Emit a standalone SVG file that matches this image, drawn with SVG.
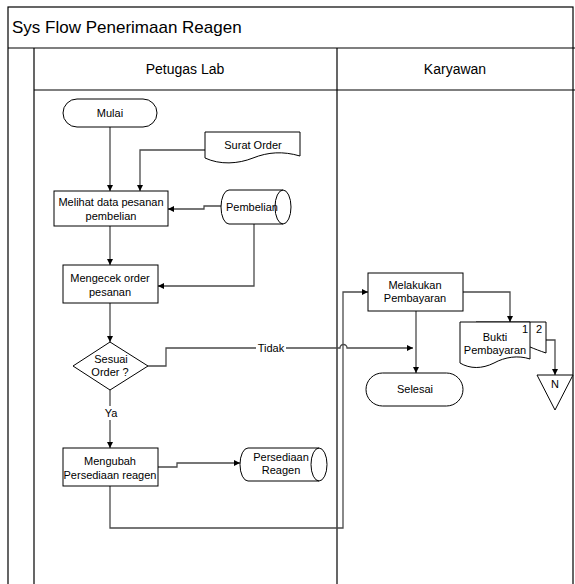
<svg xmlns="http://www.w3.org/2000/svg" width="575" height="584" viewBox="0 0 575 584">
  <style>
    .frame { fill: none; stroke: #000; stroke-width: 1.2; }
    .shape { fill: #fff; stroke: #000; stroke-width: 1; }
    .edge { fill: none; stroke: #000; stroke-width: 1; }
    .conn { fill: none; stroke: #4a4a4a; stroke-width: 1.3; }
    text { font-family: "Liberation Sans", Arial, sans-serif; fill: #000; }
    .lbl { font-size: 11px; text-anchor: middle; }
    .hdr { font-size: 14px; text-anchor: middle; }
    .title { font-size: 17px; }
  </style>
  <defs>
    <marker id="arrow" viewBox="0 0 10 10" refX="10" refY="5" markerWidth="6" markerHeight="6" markerUnits="userSpaceOnUse" orient="auto">
      <path d="M0,0 L10,5 L0,10 Z" fill="#000"/>
    </marker>
  </defs>

  <!-- swimlane frame -->
  <g id="frame">
    <rect class="frame" x="8" y="7" width="565" height="590"/>
    <line class="frame" x1="8" y1="48" x2="575" y2="48"/>
    <line class="frame" x1="34" y1="90" x2="575" y2="90"/>
    <line class="frame" x1="34" y1="48" x2="34" y2="584"/>
    <line class="frame" x1="337" y1="48" x2="337" y2="584"/>
    <text class="title" x="12" y="33">Sys Flow Penerimaan Reagen</text>
    <text class="hdr" x="185" y="74">Petugas Lab</text>
    <text class="hdr" x="455" y="74">Karyawan</text>
  </g>

  <!-- connectors -->
  <g id="connectors">
    <path class="conn" d="M110,127 V191" marker-end="url(#arrow)"/>
    <path class="conn" d="M205,150 H140 V191" marker-end="url(#arrow)"/>
    <path class="conn" d="M221,206 H204 V209 H168" marker-end="url(#arrow)"/>
    <path class="conn" d="M110,225 V265" marker-end="url(#arrow)"/>
    <path class="conn" d="M254,224 V286 H158" marker-end="url(#arrow)"/>
    <path class="conn" d="M110,303 V342" marker-end="url(#arrow)"/>
    <path class="conn" d="M148,366 H166 V348 H340 A3.5,3.5 0 0 1 347,348 H413" marker-end="url(#arrow)"/>
    <path class="conn" d="M110,390 V448" marker-end="url(#arrow)"/>
    <path class="conn" d="M158,467 H177 V463 H240" marker-end="url(#arrow)"/>
    <path class="conn" d="M110,486 V528 H343 V292 H368" marker-end="url(#arrow)"/>
    <path class="conn" d="M416,311 V373" marker-end="url(#arrow)"/>
    <path class="conn" d="M463,292 H510 V322" marker-end="url(#arrow)"/>
    <path class="conn" d="M546,340 H555 V375" marker-end="url(#arrow)"/>
    <rect x="256" y="341" width="30" height="13" fill="#fff"/>
    <text class="lbl" x="271" y="352">Tidak</text>
    <rect x="101" y="406" width="20" height="14" fill="#fff"/>
    <text class="lbl" x="111" y="417">Ya</text>
  </g>

  <g id="mulai">
    <rect class="shape" x="63" y="99" width="94" height="28" rx="14"/>
    <text class="lbl" x="110" y="117">Mulai</text>
  </g>

  <g id="surat-order">
    <path class="shape" d="M205,132 H300 V156 C283,151 268,152 253,158 C238,164 220,165 205,158 Z"/>
    <text class="lbl" x="253" y="149">Surat Order</text>
  </g>

  <g id="melihat-data">
    <rect class="shape" x="54" y="191" width="114" height="35"/>
    <text class="lbl" x="111" y="206">Melihat data pesanan</text>
    <text class="lbl" x="111" y="220">pembelian</text>
  </g>

  <g id="pembelian">
    <path class="shape" d="M229,190 H283 A8,17 0 0 1 283,224 H229 A8,17 0 0 1 229,190 Z"/>
    <path class="edge" d="M283,190 A8,17 0 0 0 283,224"/>
    <text class="lbl" x="252" y="211">Pembelian</text>
  </g>

  <g id="mengecek">
    <rect class="shape" x="63" y="265" width="95" height="38"/>
    <text class="lbl" x="110" y="282">Mengecek  order</text>
    <text class="lbl" x="110" y="296">pesanan</text>
  </g>

  <g id="sesuai-order">
    <path class="shape" d="M110,342 L148,366 L110,390 L73,366 Z"/>
    <text class="lbl" x="111" y="363">Sesuai</text>
    <text class="lbl" x="110" y="376">Order ?</text>
  </g>

  <g id="mengubah">
    <rect class="shape" x="63" y="448" width="95" height="38"/>
    <text class="lbl" x="110" y="465">Mengubah</text>
    <text class="lbl" x="110" y="479">Persediaan reagen</text>
  </g>

  <g id="persediaan-reagen">
    <path class="shape" d="M248,448 H319 A8,16.5 0 0 1 319,481 H248 A8,16.5 0 0 1 248,448 Z"/>
    <path class="edge" d="M319,448 A8,16.5 0 0 0 319,481"/>
    <text class="lbl" x="281" y="461">Persediaan</text>
    <text class="lbl" x="281" y="474">Reagen</text>
  </g>

  <g id="melakukan-pembayaran">
    <rect class="shape" x="368" y="273" width="95" height="38"/>
    <text class="lbl" x="415" y="289">Melakukan</text>
    <text class="lbl" x="415" y="302">Pembayaran</text>
  </g>

  <g id="selesai">
    <rect class="shape" x="366" y="373" width="97" height="33" rx="16.5"/>
    <text class="lbl" x="415" y="393">Selesai</text>
  </g>

  <g id="bukti-pembayaran">
    <path class="shape" d="M476,322 H546 V353 C540,351 535,349 530,347 L476,347 Z"/>
    <path class="shape" d="M460,322 H530 V359 C518,355 505,357 494,363 C482,369 470,369 460,363 Z"/>
    <text class="lbl" x="525" y="333">1</text>
    <text class="lbl" x="539" y="333">2</text>
    <text class="lbl" x="495" y="341">Bukti</text>
    <text class="lbl" x="495" y="354">Pembayaran</text>
  </g>

  <g id="offpage-n">
    <path class="shape" d="M537,375 H573 L555,410 Z"/>
    <text class="lbl" x="555" y="388">N</text>
  </g>
</svg>
